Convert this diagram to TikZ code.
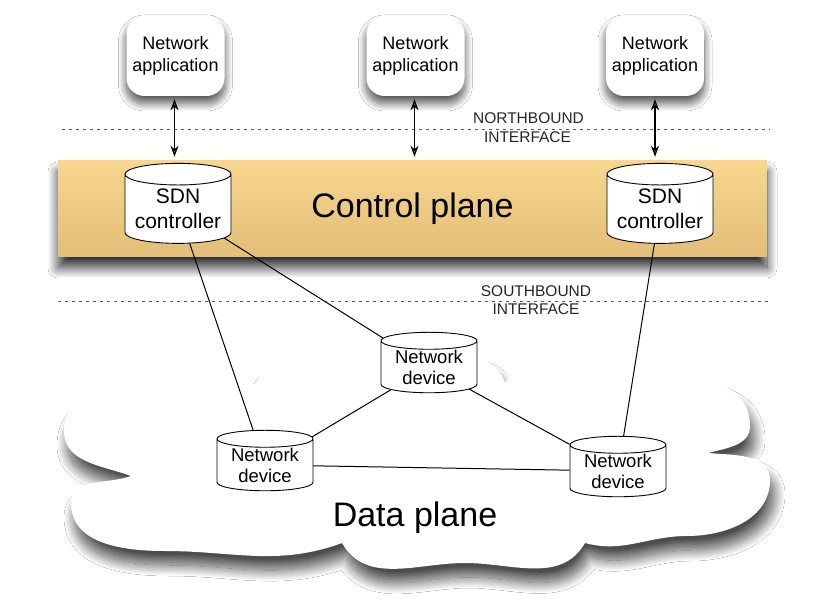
\documentclass[tikz,border=0pt]{standalone}
\usepackage{fontspec}
\setmainfont{Liberation Sans}
\usetikzlibrary{shapes.geometric,arrows.meta,shadows.blur}
\definecolor{cptop}{RGB}{248,214,142}
\definecolor{cpbot}{RGB}{226,190,120}
\begin{document}
\begin{tikzpicture}[x=1pt,y=1pt,
  appbox/.style={rectangle, rounded corners=18pt, fill=white, minimum width=98pt, minimum height=80pt,
    align=center, font=\fontsize{18}{21.5}\selectfont, inner sep=0pt,
    blur shadow={shadow xshift=0pt, shadow yshift=-7pt, shadow blur radius=8pt, shadow blur steps=24, shadow opacity=70}},
  ctrl/.style={cylinder, shape border rotate=90, aspect=0.25, draw=black, line width=0.9pt, fill=white,
    minimum width=106pt, minimum height=80pt, align=center, font=\fontsize{21}{25}\selectfont, inner sep=0pt},
  dev/.style={cylinder, shape border rotate=90, aspect=0.25, draw=black, line width=0.9pt, fill=white,
    minimum width=96pt, minimum height=58pt, align=center, font=\fontsize{18.5}{21}\selectfont, inner sep=0pt},
  plane/.style={rectangle, minimum width=709pt, minimum height=96pt, top color=cptop, bottom color=cpbot,
    font=\fontsize{34}{40}\selectfont,
    blur shadow={shadow xshift=0pt, shadow yshift=-11pt, shadow blur radius=10pt, shadow blur steps=24, shadow opacity=80}},
  cloudshape/.style={fill=white,
    blur shadow={shadow xshift=4pt, shadow yshift=-14pt, shadow blur radius=11pt, shadow blur steps=24, shadow opacity=70}},
  iface/.style={font=\fontsize{15.5}{18}\selectfont, text=black!85, inner sep=0pt},
  sep/.style={dash pattern=on 3pt off 4pt, line width=0.8pt, draw=black!65},
  link/.style={line width=1pt},
  biarrow/.style={{Stealth[length=11pt,width=8pt,inset=3.5pt]}-{Stealth[length=11pt,width=8pt,inset=3.5pt]}, line width=1.2pt, shorten <=3pt, shorten >=4pt}
]
\useasboundingbox[fill=white] (0,0) rectangle (830,613);

% data plane cloud
\path[cloudshape] (256,228)
  to[out=75,in=180] (380,248)
  to[out=0,in=110] (505,230)
  to[out=55,in=180] (612,236)
  to[out=0,in=90] (750,187)
  to[out=-90,in=15] (708,160)
  to[out=-5,in=90] (770,133)
  to[out=-90,in=0] (687,77)
  to[out=180,in=-15] (585,70)
  to[out=-120,in=0] (465,50)
  to[out=180,in=-60] (342,70)
  to[out=-160,in=0] (165,62)
  to[out=180,in=-90] (71,110)
  to[out=90,in=200] (131,137)
  to[out=160,in=-90] (64,182)
  to[out=90,in=180] (160,229)
  to[out=0,in=150] (256,228) -- cycle;
\node[font=\fontsize{34}{40}\selectfont] (dp) at (415,95) {Data plane};

% control plane
\node[plane] (cp) at (412.5,404) {Control plane};

% interface separators
\coordinate (n1) at (62,484); \coordinate (n2) at (770,484);
\coordinate (s1) at (58,312); \coordinate (s2) at (770,312);
\draw[sep] (n1) -- (n2);
\draw[sep] (s1) -- (s2);
\node[iface] (nb) at (528.5,495) {NORTHBOUND};
\node[iface] (ni) at (527.5,476) {INTERFACE};
\node[iface] (sb) at (536,322) {SOUTHBOUND};
\node[iface] (si) at (536,304) {INTERFACE};

% applications
\node[appbox] (app1) at (175.5,557) {Network\\application};
\node[appbox] (app2) at (415.5,557) {Network\\application};
\node[appbox] (app3) at (655,557) {Network\\application};
\draw[biarrow] ([xshift=-1pt]app1.south) -- ([xshift=-1pt]app1.south |- cp.north);
\draw[biarrow] ([xshift=-1pt]app2.south) -- ([xshift=-1pt]app2.south |- cp.north);
\draw[biarrow] (app3.south) -- (app3.south |- cp.north);

% controllers and devices
\node[ctrl] (sdn1) at (178,404) {SDN\\controller};
\node[ctrl] (sdn2) at (660,404) {SDN\\controller};
\node[dev] (dtop) at (429,246) {Network\\device};
\node[dev] (dleft) at (265,148) {Network\\device};
\node[dev] (dright) at (618,142) {Network\\device};

\draw[link] (sdn1) -- (dleft);
\draw[link] (sdn1) -- (dtop);
\draw[link] (sdn2) -- (dright);
\draw[link] (dtop) -- (dleft);
\draw[link] (dtop) -- (dright);
\draw[link] (dleft) -- (dright);
\end{tikzpicture}
\end{document}
